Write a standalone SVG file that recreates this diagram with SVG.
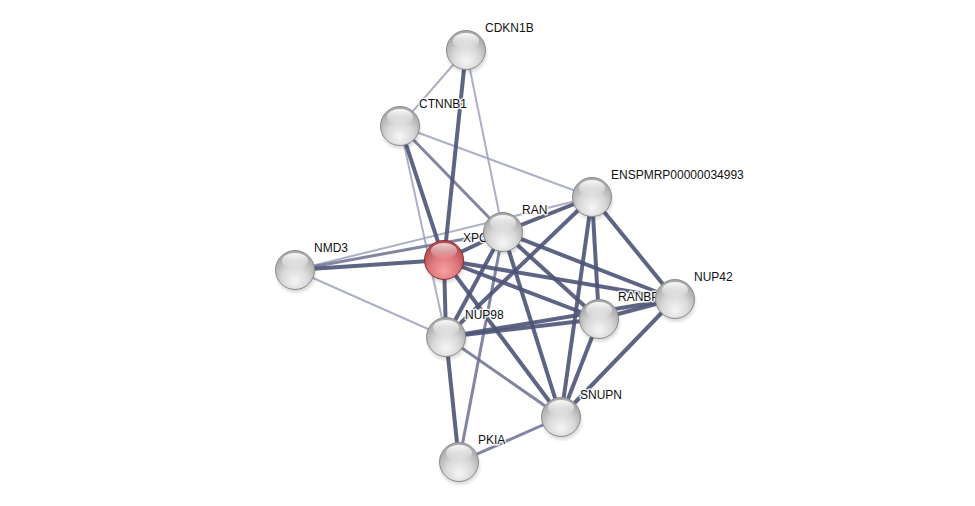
<svg xmlns="http://www.w3.org/2000/svg" xmlns:xlink="http://www.w3.org/1999/xlink" width="975" height="506" viewBox="0 0 975 506">
<style>
.e{fill:none;stroke-linecap:butt}
.d{stroke:#4d5376;stroke-width:4;stroke-opacity:0.9}
.m{stroke:#6b7091;stroke-width:3;stroke-opacity:0.85}
.l{stroke:#9ea2bb;stroke-width:2;stroke-opacity:0.85}
.lbl{font-family:"Liberation Sans",Arial,sans-serif;font-size:12px;fill:#111;stroke:#fff;stroke-width:3;stroke-opacity:0.85;paint-order:stroke;stroke-linejoin:round}
</style>
<defs>
<radialGradient id="gGray" cx="50%" cy="68%" r="60%" fx="50%" fy="80%">
<stop offset="0" stop-color="#f6f6f6"/>
<stop offset="0.55" stop-color="#d9d9d9"/>
<stop offset="1" stop-color="#a9a9a9"/>
</radialGradient>
<radialGradient id="gRed" cx="50%" cy="68%" r="60%" fx="50%" fy="80%">
<stop offset="0" stop-color="#f7a0a3"/>
<stop offset="0.55" stop-color="#e07a7e"/>
<stop offset="1" stop-color="#b24e52"/>
</radialGradient>
<linearGradient id="gHi" x1="0" y1="0" x2="0" y2="1">
<stop offset="0" stop-color="#fff" stop-opacity="0.95"/>
<stop offset="1" stop-color="#fff" stop-opacity="0"/>
</linearGradient>
<radialGradient id="gSh" cx="50%" cy="50%" r="50%">
<stop offset="0.6" stop-color="#000" stop-opacity="0.25"/>
<stop offset="1" stop-color="#000" stop-opacity="0"/>
</radialGradient>
<g id="sphere">
<ellipse cx="1" cy="4" rx="22" ry="21" fill="url(#gSh)"/>
<circle r="19.5" fill="url(#gGray)" stroke="#8c8c8c" stroke-width="1"/>
<ellipse cx="0" cy="-9" rx="13" ry="8" fill="url(#gHi)"/>
</g>
<g id="sphereRed">
<ellipse cx="1" cy="4" rx="22" ry="21" fill="url(#gSh)"/>
<circle r="19.5" fill="url(#gRed)" stroke="#8e2d30" stroke-width="1"/>
<ellipse cx="0" cy="-9" rx="13" ry="8" fill="url(#gHi)" opacity="0.8"/>
</g>
</defs>
<rect width="975" height="506" fill="#fff"/>
<g id="edges">
<line class="e l" x1="466" y1="50" x2="400" y2="126"/>
<line class="e l" x1="466" y1="50" x2="503" y2="232"/>
<line class="e l" x1="400" y1="126" x2="592" y2="197"/>
<line class="e l" x1="400" y1="126" x2="446" y2="337"/>
<line class="e l" x1="295" y1="270" x2="592" y2="197"/>
<line class="e l" x1="295" y1="270" x2="446" y2="337"/>
<line class="e m" x1="400" y1="126" x2="503" y2="232"/>
<line class="e m" x1="295" y1="270" x2="503" y2="232"/>
<line class="e m" x1="446" y1="337" x2="561" y2="417"/>
<line class="e m" x1="561" y1="417" x2="459" y2="462"/>
<line class="e m" x1="503" y1="232" x2="459" y2="462"/>
<line class="e d" x1="466" y1="50" x2="444" y2="260"/>
<line class="e d" x1="400" y1="126" x2="444" y2="260"/>
<line class="e d" x1="295" y1="270" x2="444" y2="260"/>
<line class="e d" x1="444" y1="260" x2="503" y2="232"/>
<line class="e d" x1="444" y1="260" x2="446" y2="337"/>
<line class="e d" x1="444" y1="260" x2="599" y2="319"/>
<line class="e d" x1="444" y1="260" x2="675" y2="299"/>
<line class="e d" x1="444" y1="260" x2="561" y2="417"/>
<line class="e d" x1="503" y1="232" x2="592" y2="197"/>
<line class="e d" x1="503" y1="232" x2="446" y2="337"/>
<line class="e d" x1="503" y1="232" x2="599" y2="319"/>
<line class="e d" x1="503" y1="232" x2="675" y2="299"/>
<line class="e d" x1="503" y1="232" x2="561" y2="417"/>
<line class="e d" x1="592" y1="197" x2="446" y2="337"/>
<line class="e d" x1="592" y1="197" x2="599" y2="319"/>
<line class="e d" x1="592" y1="197" x2="561" y2="417"/>
<line class="e d" x1="592" y1="197" x2="675" y2="299"/>
<line class="e d" x1="446" y1="337" x2="599" y2="319"/>
<line class="e d" x1="446" y1="337" x2="675" y2="299"/>
<line class="e d" x1="446" y1="337" x2="459" y2="462"/>
<line class="e d" x1="599" y1="319" x2="675" y2="299"/>
<line class="e d" x1="599" y1="319" x2="561" y2="417"/>
<line class="e d" x1="675" y1="299" x2="561" y2="417"/>
</g>
<g id="node-CDKN1B"><use xlink:href="#sphere" href="#sphere" x="466" y="50"/><text class="lbl" x="485" y="32">CDKN1B</text></g>
<g id="node-CTNNB1"><use xlink:href="#sphere" href="#sphere" x="400" y="126"/><text class="lbl" x="419" y="108">CTNNB1</text></g>
<g id="node-NMD3"><use xlink:href="#sphere" href="#sphere" x="295" y="270"/><text class="lbl" x="314" y="252">NMD3</text></g>
<g id="node-XPO1"><use xlink:href="#sphereRed" href="#sphereRed" x="444" y="260"/><text class="lbl" x="463" y="242">XPO1</text></g>
<g id="node-RAN"><use xlink:href="#sphere" href="#sphere" x="503" y="232"/><text class="lbl" x="522" y="214">RAN</text></g>
<g id="node-ENSPMRP00000034993"><use xlink:href="#sphere" href="#sphere" x="592" y="197"/><text class="lbl" x="611" y="179">ENSPMRP00000034993</text></g>
<g id="node-NUP98"><use xlink:href="#sphere" href="#sphere" x="446" y="337"/><text class="lbl" x="465" y="319">NUP98</text></g>
<g id="node-RANBP1"><use xlink:href="#sphere" href="#sphere" x="599" y="319"/><text class="lbl" x="618" y="301">RANBP1</text></g>
<g id="node-NUP42"><use xlink:href="#sphere" href="#sphere" x="675" y="299"/><text class="lbl" x="694" y="281">NUP42</text></g>
<g id="node-SNUPN"><use xlink:href="#sphere" href="#sphere" x="561" y="417"/><text class="lbl" x="580" y="399">SNUPN</text></g>
<g id="node-PKIA"><use xlink:href="#sphere" href="#sphere" x="459" y="462"/><text class="lbl" x="478" y="444">PKIA</text></g>
</svg>
